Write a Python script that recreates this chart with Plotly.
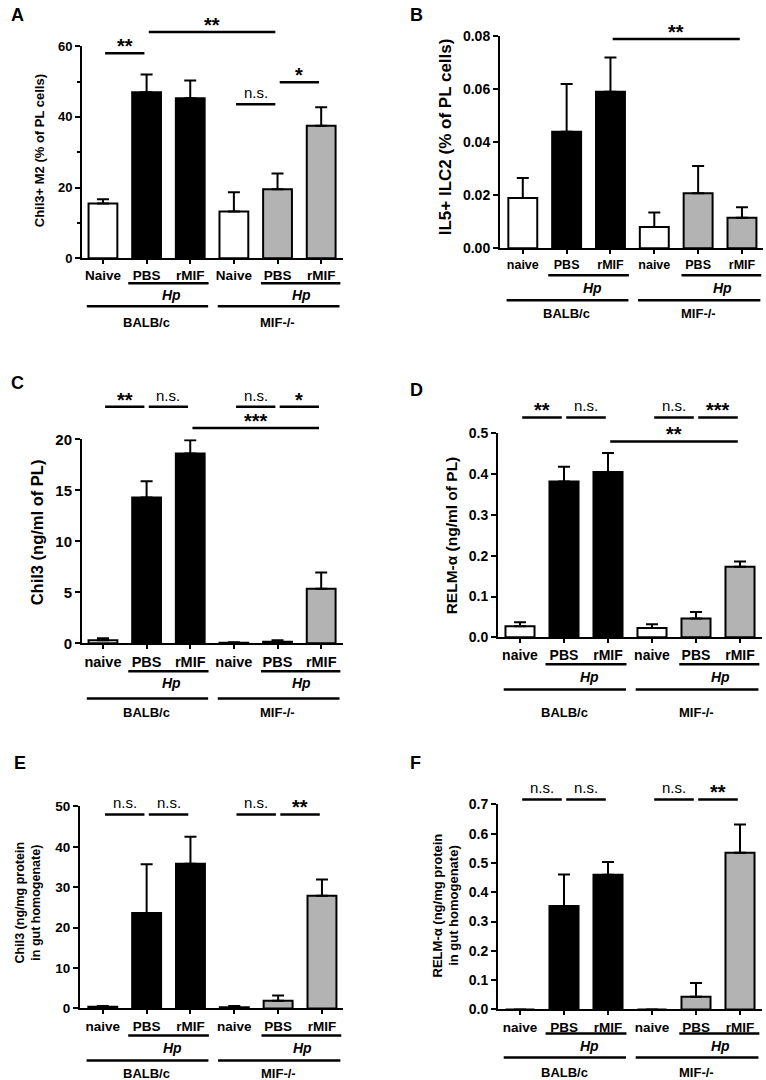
import plotly.graph_objects as go

W, H = 766, 1080
FONT = "Liberation Sans, Arial, Helvetica, sans-serif"

# group labels shared by all panels
labels_cap = ["Naive", "PBS", "rMIF", "Naive", "PBS", "rMIF"]
labels_low = ["naive", "PBS", "rMIF", "naive", "PBS", "rMIF"]
strains = ["BALB/c", "MIF-/-"]
infection = "Hp"
bar_colors = ["white", "black", "black", "white", "#b3b3b3", "#b3b3b3"]

# A - Chil3+ M2 (% of PL cells)
a_mean = [15.5, 47.0, 45.3, 13.2, 19.5, 37.5]
a_sem = [1.2, 5.0, 5.0, 5.5, 4.5, 5.2]
a_sig = [(0, 1, "**"), (1, 4, "**"), (3, 4, "n.s."), (4, 5, "*")]

# B - IL5+ ILC2 (% of PL cells)
b_mean = [0.019, 0.044, 0.059, 0.008, 0.0208, 0.0115]
b_sem = [0.0075, 0.018, 0.013, 0.0055, 0.0102, 0.004]
b_sig = [(2, 5, "**")]

# C - Chil3 (ng/ml of PL)
c_mean = [0.3, 14.3, 18.6, 0.05, 0.15, 5.35]
c_sem = [0.2, 1.6, 1.3, 0.05, 0.15, 1.6]
c_sig = [(0, 1, "**"), (1, 2, "n.s."), (3, 4, "n.s."), (4, 5, "*"), (2, 5, "***")]

# D - RELM-a (ng/ml of PL)
d_mean = [0.027, 0.382, 0.405, 0.023, 0.046, 0.173]
d_sem = [0.010, 0.036, 0.047, 0.009, 0.016, 0.013]
d_sig = [(0, 1, "**"), (1, 2, "n.s."), (3, 4, "n.s."), (4, 5, "***"), (2, 5, "**")]

# E - Chil3 (ng/mg protein in gut homogenate)
e_mean = [0.4, 23.6, 35.8, 0.3, 1.9, 27.9]
e_sem = [0.2, 12.1, 6.7, 0.3, 1.3, 4.0]
e_sig = [(0, 1, "n.s."), (1, 2, "n.s."), (3, 4, "n.s."), (4, 5, "**")]

# F - RELM-a (ng/mg protein in gut homogenate)
f_mean = [0.0, 0.353, 0.46, 0.0, 0.043, 0.535]
f_sem = [0.0, 0.108, 0.043, 0.0, 0.047, 0.096]
f_sig = [(0, 1, "n.s."), (1, 2, "n.s."), (3, 4, "n.s."), (4, 5, "**")]

# layout of each panel (pixel boxes, ranges, fonts)
panels = [
    dict(letter="A", letter_xy=(17, 15), mean=a_mean, sem=a_sem, sig=a_sig,
         sig_y=[58.0, 64.0, 43.6, 49.8], labels=labels_cap,
         title="Chil3+ M2 (% of PL cells)", title_xy=(39, 151), title_size=13,
         box=(82, 343, 46, 258), xr=[-0.48, 5.5], yr=[0, 60], dtick=20, fmt="d",
         minor=10, tick_size=13, cat_size=13.5, below=(25, 37, 48, 64)),
    dict(letter="B", letter_xy=(416, 15), mean=b_mean, sem=b_sem, sig=b_sig,
         sig_y=[0.0789], labels=labels_low,
         title="IL5+ ILC2 (% of PL cells)", title_xy=(445, 136), title_size=17,
         box=(500, 763, 36, 248), xr=[-0.52, 5.48], yr=[0, 0.08], dtick=0.02, fmt=".2f",
         minor=None, tick_size=14, cat_size=12.5, below=(27, 40, 52, 65)),
    dict(letter="C", letter_xy=(17, 383), mean=c_mean, sem=c_sem, sig=c_sig,
         sig_y=[23.2, 23.2, 23.2, 23.2, 21.1], labels=labels_low,
         title="Chil3 (ng/ml of PL)", title_xy=(37, 532), title_size=16.5,
         box=(82, 343, 439, 643), xr=[-0.48, 5.5], yr=[0, 20], dtick=5, fmt="d",
         minor=None, tick_size=15, cat_size=14.5, below=(28, 40, 55, 69)),
    dict(letter="D", letter_xy=(416, 390), mean=d_mean, sem=d_sem, sig=d_sig,
         sig_y=[0.539, 0.539, 0.539, 0.539, 0.48], labels=labels_low,
         title="RELM-α (ng/ml of PL)", title_xy=(451, 535), title_size=15.5,
         box=(498, 762, 433, 637), xr=[-0.5, 5.5], yr=[0, 0.5], dtick=0.1, fmt=".1f",
         minor=None, tick_size=14, cat_size=14, below=(27, 40, 52, 75)),
    dict(letter="E", letter_xy=(20, 763), mean=e_mean, sem=e_sem, sig=e_sig,
         sig_y=[48.0, 48.0, 48.0, 48.0], labels=labels_low,
         title="Chil3 (ng/mg protein<br>in gut homogenate)", title_xy=(28, 902), title_size=12.5,
         box=(80, 343, 806, 1008), xr=[-0.52, 5.48], yr=[0, 50], dtick=10, fmt="d",
         minor=None, tick_size=13.5, cat_size=13.5, below=(27, 40, 52, 65)),
    dict(letter="F", letter_xy=(415, 763), mean=f_mean, sem=f_sem, sig=f_sig,
         sig_y=[0.717, 0.717, 0.717, 0.717], labels=labels_low,
         title="RELM-α (ng/mg protein<br>in gut homogenate)", title_xy=(446, 905), title_size=13,
         box=(498, 762, 804, 1009), xr=[-0.5, 5.5], yr=[0, 0.7], dtick=0.1, fmt=".1f",
         minor=None, tick_size=14, cat_size=13.5, below=(24, 37, 48, 63)),
]

hp_spans = [(0.58, 2.42), (3.62, 5.44)]
strain_spans = [(-0.37, 2.41), (2.63, 5.42)]
hp_text_x = [1.58, 4.56]
strain_text_x = [1.0, 4.0]

# the photographed page came out a little squashed vertically, so undo that here
Y_OFF, Y_SCALE = 8.8, 0.984


def py(v):
    return (v - Y_OFF) / Y_SCALE


fig = go.Figure()
shapes = []
annotations = []

for n, p in enumerate(panels, start=1):
    sfx = "" if n == 1 else str(n)
    xa, ya = "x" + sfx, "y" + sfx
    l, r, t, b = p["box"]
    t, b = py(t), py(b)
    ph = b - t
    idx = list(range(len(p["mean"])))

    fig.add_trace(go.Bar(
        x=idx, y=p["mean"], xaxis=xa, yaxis=ya, width=0.66,
        marker=dict(color=bar_colors, line=dict(color="black", width=2)),
        error_y=dict(type="data", symmetric=False, array=p["sem"],
                     arrayminus=[0] * len(idx), color="black", thickness=2, width=6),
        showlegend=False, hoverinfo="skip",
    ))

    xaxis = dict(domain=[l / W, r / W], anchor=ya, range=p["xr"],
                 showline=True, linecolor="black", linewidth=2,
                 ticks="outside", ticklen=4, tickwidth=2, tickcolor="black",
                 tickvals=idx, ticktext=p["labels"], showgrid=False, zeroline=False,
                 tickfont=dict(family=FONT, size=p["cat_size"], color="black", weight="bold"))
    yaxis = dict(domain=[1 - b / H, 1 - t / H], anchor=xa, range=p["yr"],
                 showline=True, linecolor="black", linewidth=2,
                 ticks="outside", ticklen=5, tickwidth=2, tickcolor="black",
                 dtick=p["dtick"], tick0=0, tickformat=p["fmt"],
                 showgrid=False, zeroline=False,
                 tickfont=dict(family=FONT, size=p["tick_size"], color="black", weight="bold"))
    if p["minor"]:
        yaxis["minor"] = dict(dtick=p["minor"], ticks="outside", ticklen=3,
                              tickwidth=2, tickcolor="black", showgrid=False)
    fig.update_layout(**{"xaxis" + sfx: xaxis, "yaxis" + sfx: yaxis})

    # significance brackets above the bars
    for (i, j, lab), yv in zip(p["sig"], p["sig_y"]):
        yd = yv / p["yr"][1]
        shapes.append(dict(type="line", xref=xa, yref=ya + " domain",
                           x0=i + 0.05, x1=j - 0.05, y0=yd, y1=yd,
                           line=dict(color="black", width=2.5)))
        star = lab.startswith("*")
        annotations.append(dict(
            xref=xa, yref=ya + " domain", x=(i + j) / 2, y=yd,
            text=lab, showarrow=False, xanchor="center", yanchor="bottom",
            yshift=-6 if star else 1,
            font=dict(family=FONT, size=20 if star else 15, color="black",
                      weight="bold" if star else "normal")))

    # treatment / strain grouping below the axis
    hl, ht, sl, st = [v / Y_SCALE for v in p["below"]]
    for (x0, x1), tx in zip(hp_spans, hp_text_x):
        shapes.append(dict(type="line", xref=xa, yref=ya + " domain",
                           x0=x0, x1=x1, y0=-hl / ph, y1=-hl / ph,
                           line=dict(color="black", width=2.5)))
        annotations.append(dict(xref=xa, yref=ya + " domain", x=tx, y=-ht / ph,
                                text="<i>" + infection + "</i>", showarrow=False,
                                xanchor="center", yanchor="middle",
                                font=dict(family=FONT, size=14, color="black", weight="bold")))
    for (x0, x1), tx, name in zip(strain_spans, strain_text_x, strains):
        shapes.append(dict(type="line", xref=xa, yref=ya + " domain",
                           x0=x0, x1=x1, y0=-sl / ph, y1=-sl / ph,
                           line=dict(color="black", width=2.5)))
        annotations.append(dict(xref=xa, yref=ya + " domain", x=tx, y=-st / ph,
                                text=name, showarrow=False,
                                xanchor="center", yanchor="middle",
                                font=dict(family=FONT, size=13, color="black", weight="bold")))

    # y-axis title and panel letter
    tx, ty = p["title_xy"]
    annotations.append(dict(xref="paper", yref="paper", x=tx / W, y=1 - py(ty) / H,
                            text=p["title"], textangle=-90, showarrow=False,
                            xanchor="center", yanchor="middle",
                            font=dict(family=FONT, size=p["title_size"], color="black",
                                      weight="bold")))
    lx, ly = p["letter_xy"]
    annotations.append(dict(xref="paper", yref="paper", x=lx / W, y=1 - py(ly) / H,
                            text=p["letter"], showarrow=False,
                            xanchor="center", yanchor="middle",
                            font=dict(family=FONT, size=18, color="black", weight="bold")))

fig.update_layout(
    width=W, height=H,
    margin=dict(l=0, r=0, t=0, b=0),
    paper_bgcolor="white", plot_bgcolor="white",
    bargap=0.3,
    shapes=shapes, annotations=annotations,
)

# drop the browser's default body margin so the figure fills the window exactly
fig.write_html("out.html", config={"displayModeBar": False}, post_script=(
    "document.body.style.margin='0';"
    "document.body.style.overflow='hidden';"
    "var d=document.getElementById('{plot_id}');"
    "d.style.position='absolute';d.style.left='0';d.style.top='0';"
))
